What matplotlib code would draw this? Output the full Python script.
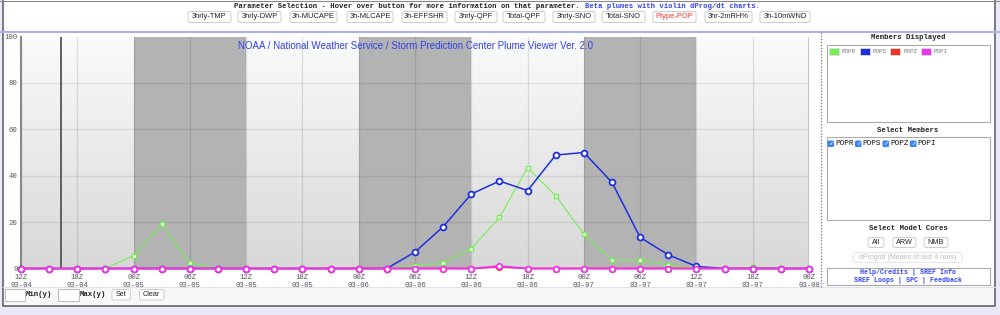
import numpy as np
import matplotlib.pyplot as plt
from matplotlib.patches import FancyBboxPatch, Rectangle
from matplotlib.colors import LinearSegmentedColormap

# 3-hourly forecast steps from 12Z 03-04 to 00Z 03-08
step_hours = ['12Z', '15Z', '18Z', '21Z'] + ['00Z', '03Z', '06Z', '09Z', '12Z', '15Z', '18Z', '21Z'] * 3 + ['00Z']
step_dates = ['03-04'] * 4 + ['03-05'] * 8 + ['03-06'] * 8 + ['03-07'] * 8 + ['03-08']

popr = [0, 0, 0, 0, 5.6, 19.1, 2.5, 0, 0, 0, 0, 0, 0, 0, 1.2, 2.3, 8.6, 22.0, 43.5,
        31.3, 14.8, 3.6, 3.6, 1.5, 0, 0, 0.5, 0, 0]
pops = [0, 0, 0, 0, 0, 0, 0, 0, 0, 0, 0, 0, 0, 0, 7.1, 18.0, 32.1, 37.7, 33.6,
        48.9, 50.0, 37.1, 13.4, 5.9, 0.9, 0, 0, 0, 0]
popz = [0, 0, 0, 0, 0, 0, 0, 0, 0, 0, 0, 0, 0, 0, 0, 0, 0, 0.6, 0,
        0, 0, 0, 0, 0, 0, 0, 0, 0, 0]
popi = [0, 0, 0, 0, 0, 0, 0, 0, 0, 0, 0, 0, 0, 0, 0, 0, 0, 1.0, 0,
        0, 0, 0, 0, 0, 0, 0, 0, 0, 0]

members = ['POPR', 'POPS', 'POPZ', 'POPI']
member_colors = ['#77ee55', '#1f2fe0', '#ee3322', '#ee33ee']

night_spans = [(4, 8), (12, 16), (20, 24)]
current_step = 1.42

param_buttons = ['3hrly-TMP', '3hrly-DWP', '3h-MUCAPE', '3h-MLCAPE', '3h-EFFSHR', '3hrly-QPF',
                 'Total-QPF', '3hrly-SNO', 'Total-SNO', 'Ptype-POP', '3hr-2mRH%', '3h-10mWND']
button_edges = [(188, 231), (238, 281), (290, 337), (347, 393), (402, 447), (455, 497),
                (503, 545), (553, 595), (602, 645), (653, 696), (705, 752), (760, 810)]

MONO = 'Liberation Mono'
SANS = 'Liberation Sans'

fig = plt.figure(figsize=(10, 3.15), dpi=100)

# page layer in pixel coordinates
bg = fig.add_axes([0, 0, 1, 1])
bg.set_xlim(0, 1000)
bg.set_ylim(315, 0)
bg.axis('off')


def box(x0, y0, x1, y1, fc='white', ec='#bbbbbb', lw=0.8, r=0):
    if r > 0:
        p = FancyBboxPatch((x0, y0), x1 - x0, y1 - y0, boxstyle='round,pad=0,rounding_size=%s' % r,
                           fc=fc, ec=ec, lw=lw)
    else:
        p = Rectangle((x0, y0), x1 - x0, y1 - y0, fc=fc, ec=ec, lw=lw)
    bg.add_patch(p)


# page background and frame
box(0, 0, 1000, 315, fc='#e9e9f7', ec='none')
box(2.5, 0, 994.5, 31, fc='white', ec='none')
box(2.5, 31, 994.5, 306, fc='white', ec='none')
box(2.5, 287, 994.5, 306, fc='#f7f7f7', ec='none')
bg.plot([2.5, 2.5, 994.5, 994.5], [0, 306, 306, 0], color='#666666', lw=1.2)
bg.plot([0, 1000], [0.5, 0.5], color='#888888', lw=0.8)
bg.plot([0, 1000], [31.5, 31.5], color='#aab0f0', lw=1.5)
bg.plot([2.5, 994.5], [287, 287], color='#e0e0ee', lw=0.8)

# header
bg.text(234, 6, 'Parameter Selection - Hover over button for more information on that parameter.',
        family=MONO, weight='bold', size=5.2, color='#222222', va='center', ha='left')
bg.text(585, 6, 'Beta plumes with violin dProg/dt charts.',
        family=MONO, weight='bold', size=5.2, color='#3344ee', va='center', ha='left')
for name, (x0, x1) in zip(param_buttons, button_edges):
    box(x0, 11.5, x1, 22.5, ec='#cccccc', lw=0.7, r=2)
    bg.text((x0 + x1) / 2, 17, name, family=SANS, size=5.4, va='center', ha='center',
            color='#ee3333' if name == 'Ptype-POP' else '#222222')

# right panel
bg.plot([820.5, 820.5], [32, 287], color='#888888', lw=1, ls=(0, (1, 1.2)))
bg.text(908, 37.5, 'Members Displayed', family=MONO, weight='bold', size=5.2, ha='center', va='center',
        color='#222222')
box(826.5, 44.5, 990, 122, ec='#aaaaaa')
for i, (m, c) in enumerate(zip(members, member_colors)):
    sx = 829 + i * 30.5
    box(sx, 48, sx + 10, 55, fc=c, ec='#dddddd', lw=0.6)
    bg.text(sx + 13, 51.5, m, family=MONO, size=4.2, color='#777777', va='center', ha='left')
bg.text(908, 130, 'Select Members', family=MONO, weight='bold', size=5.2, ha='center', va='center',
        color='#222222')
box(826.5, 137, 990, 220, ec='#aaaaaa')
for i, m in enumerate(members):
    cx = 827.5 + i * 27.5
    box(cx, 140.5, cx + 6.5, 147, fc='#3b82f6', ec='none', r=1.2)
    bg.text(cx + 3.25, 143.6, u'\u2713', family='DejaVu Sans', size=4.5, color='white',
            ha='center', va='center', weight='bold')
    bg.text(cx + 7.5, 143.8, m, family=MONO, size=5.6, color='#111111', ha='left', va='center')
bg.text(908, 228.5, 'Select Model Cores', family=MONO, weight='bold', size=5.2, ha='center', va='center',
        color='#222222')
for name, x0, x1 in [('All', 868, 884), ('ARW', 893, 916), ('NMB', 924, 948)]:
    box(x0, 237.5, x1, 247.5, ec='#cccccc', lw=0.7, r=2)
    bg.text((x0 + x1) / 2, 242.5, name, family=SANS, size=5.2, ha='center', va='center', color='#222222')
box(853, 252.5, 962, 262.5, ec='#e4e4e4', lw=0.7, r=2)
bg.text(907.5, 257.5, 'dProg/dt (Means of last 4 runs)', family=SANS, size=5, ha='center', va='center',
        color='#bbbbbb')
box(826.5, 268, 990, 284.5, ec='#aaaaaa')
bg.text(908, 273, 'Help/Credits | SREF Info', family=MONO, weight='bold', size=4.8, ha='center',
        va='center', color='#3344ee')
bg.text(908, 280, 'SREF Loops | SPC | Feedback', family=MONO, weight='bold', size=4.8, ha='center',
        va='center', color='#3344ee')

# bottom controls
box(4.5, 288.5, 24.5, 300.5, ec='#bbbbbb', lw=0.7)
bg.text(26, 295, 'Min(y)', family=MONO, weight='bold', size=5.3, ha='left', va='center', color='#222222')
box(57.5, 288.5, 78.5, 300.5, ec='#bbbbbb', lw=0.7)
bg.text(79.5, 295, 'Max(y)', family=MONO, weight='bold', size=5.3, ha='left', va='center', color='#222222')
box(112, 289.5, 130.5, 300, ec='#cccccc', lw=0.7, r=2)
bg.text(121.3, 295, 'Set', family=SANS, size=5.2, ha='center', va='center', color='#222222')
box(139.5, 289.5, 164, 300, ec='#cccccc', lw=0.7, r=2)
bg.text(151.8, 295, 'Clear', family=SANS, size=5.2, ha='center', va='center', color='#222222')

# plume chart
ax = fig.add_axes([21 / 1000, 1 - 268.5 / 315, (809 - 21) / 1000, (268.5 - 36.5) / 315])
n = len(step_hours)
x = np.arange(n)
grad = LinearSegmentedColormap.from_list('plotbg', ['#fbfbfb', '#d8d8d8'])
ax.imshow(np.linspace(0, 1, 256).reshape(-1, 1), cmap=grad, extent=[0, n - 1, 0, 100],
          aspect='auto', zorder=0)
for a, b in night_spans:
    ax.axvspan(a, b, color='#b3b3b3', lw=0, zorder=1)
for gx in range(0, n, 2):
    ax.axvline(gx, color='black', alpha=0.1, lw=1, zorder=2)
for gy in range(20, 100, 20):
    ax.axhline(gy, color='black', alpha=0.08, lw=1, zorder=2)
ax.axvline(current_step, color='#555555', lw=1.3, zorder=3)
ax.axvline(n - 1, color='#c4c4c4', lw=1.5, zorder=3)

marker_style = {
    'POPR': dict(marker='s', ms=3, mew=1.0),
    'POPS': dict(marker='o', ms=4.2, mew=1.3),
    'POPZ': dict(marker='o', ms=4.0, mew=1.2),
    'POPI': dict(marker='o', ms=4.0, mew=1.2),
}
line_width = {'POPR': 0.8, 'POPS': 1.1, 'POPZ': 1.1, 'POPI': 1.4}
for m, c, vals in zip(members, member_colors, [popr, pops, popz, popi]):
    ax.plot(x, vals, color=c, lw=line_width[m], mfc='white', mec=c, clip_on=False, zorder=5,
            **marker_style[m])

ax.text((n - 1) / 2, 96, 'NOAA / National Weather Service / Storm Prediction Center Plume Viewer Ver. 2.0',
        family=SANS, size=7.0, color='#3344ee', ha='center', va='center', zorder=6)

ax.set_xlim(0, n - 1)
ax.set_ylim(0, 100)
ax.set_yticks(range(0, 101, 20))
ax.set_xticks(x[::2])
ax.set_xticklabels(['%s\n%s' % (h, d) for h, d in zip(step_hours[::2], step_dates[::2])], linespacing=1.2)
ax.tick_params(length=0, labelsize=5.2, labelcolor='#555555')
ax.tick_params(axis='y', pad=2.5)
ax.tick_params(axis='x', pad=4)
for lab in ax.get_xticklabels() + ax.get_yticklabels():
    lab.set_family(MONO)
for s in ['top', 'right', 'bottom']:
    ax.spines[s].set_visible(False)
ax.spines['left'].set_color('#888888')
ax.spines['left'].set_linewidth(1.5)

plt.savefig('out.png', dpi=100)
